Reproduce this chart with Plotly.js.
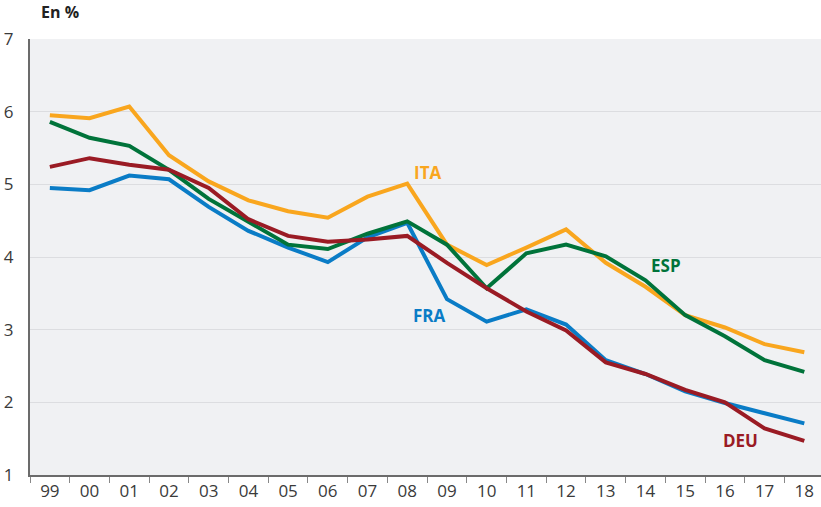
<!DOCTYPE html>
<html><head><meta charset="utf-8">
<script src="https://cdn.plot.ly/plotly-3.0.1.min.js"></script>
<style>html,body{margin:0;padding:0;background:#fff;}#chart{width:821px;height:507px;}</style>
</head><body><div id="chart"></div>
<script>
const years = ["99","00","01","02","03","04","05","06","07","08","09","10","11","12","13","14","15","16","17","18"];
const ita = [5.95,5.91,6.07,5.40,5.04,4.78,4.63,4.54,4.83,5.01,4.17,3.89,4.13,4.38,3.92,3.59,3.20,3.03,2.80,2.69];
const esp = [5.86,5.64,5.53,5.20,4.80,4.48,4.17,4.11,4.32,4.49,4.17,3.57,4.05,4.17,4.01,3.68,3.20,2.91,2.58,2.42];
const deu = [5.24,5.36,5.27,5.20,4.95,4.52,4.29,4.21,4.24,4.29,3.92,3.57,3.25,2.99,2.55,2.39,2.17,2.00,1.64,1.47];
const fra = [4.95,4.92,5.12,5.07,4.69,4.36,4.13,3.93,4.27,4.47,3.42,3.11,3.28,3.07,2.58,2.39,2.15,1.99,1.85,1.71];
const seriesNames = ["ITA","ESP","FRA","DEU"];
const colors = {ITA:"#F9A61E", ESP:"#00733A", FRA:"#0A7CC6", DEU:"#9A1B24"};
const data = {ITA: ita, ESP: esp, FRA: fra, DEU: deu};
const order = ["ITA","FRA","ESP","DEU"];
const traces = order.map(n => ({
  x: years, y: data[n], type: "scatter", mode: "lines", name: n,
  line: {color: colors[n], width: 4}, hoverinfo: "skip"
}));
const labelPos = {ITA:[9.52,5.16], ESP:[15.52,3.88], FRA:[9.55,3.19], DEU:[17.4,1.47]};
const annotations = seriesNames.map(n => ({
  x: labelPos[n][0], y: labelPos[n][1], xref: "x", yref: "y", text: "<b>"+n+"</b>",
  showarrow: false, font: {family: "Open Sans, sans-serif", size: 17, color: colors[n]}
}));
annotations.push({x: 0, y: 1, xref: "paper", yref: "paper", xanchor: "left", yanchor: "bottom",
  xshift: 9, yshift: 14, text: "<b>En %</b>", showarrow: false,
  font: {family: "Open Sans, sans-serif", size: 16, color: "#222"}});
const layout = {
  width: 821, height: 507,
  margin: {l: 30, r: 0, t: 39, b: 32},
  paper_bgcolor: "#ffffff", plot_bgcolor: "#F0F1F3",
  showlegend: false,
  font: {family: "Open Sans, sans-serif", size: 17, color: "#3a3a3a"},
  xaxis: {type: "category", range: [-0.5, 19.42], tickson: "boundaries", ticks: "outside",
    ticklen: 6, tickcolor: "#888", tickwidth: 1, showgrid: false, zeroline: false,
    showline: true, linecolor: "#6b6b6b", linewidth: 2, tickfont: {size: 17, color: "#3a3a3a"}},
  yaxis: {range: [1, 7], dtick: 1, tick0: 1, ticks: "", showgrid: true, gridcolor: "#DCDDE0", gridwidth: 1,
    zeroline: false, showline: true, linecolor: "#6b6b6b", linewidth: 2,
    ticklabelstandoff: 11, tickfont: {size: 17, color: "#3a3a3a"}},
  annotations: annotations
};
Plotly.newPlot("chart", traces, layout, {displayModeBar: false, staticPlot: true});
</script></body></html>
